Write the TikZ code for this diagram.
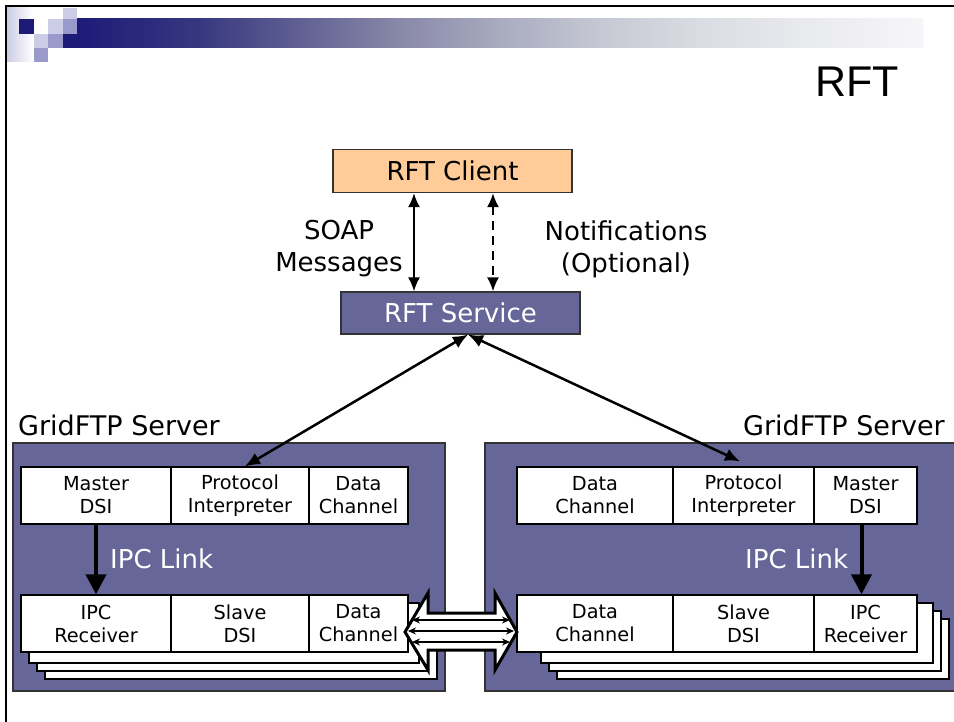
\documentclass[tikz,border=0pt]{standalone}
\usepackage{fontspec}
\setmainfont{DejaVu Sans}
\newfontfamily\titlefont{Liberation Sans}
\usetikzlibrary{arrows.meta}
\definecolor{slate}{HTML}{666699}
\definecolor{peach}{HTML}{FFCC99}
\definecolor{navyb}{HTML}{1C1C78}
\definecolor{lav}{HTML}{CCCCE6}
\definecolor{lavm}{HTML}{9999CC}
\definecolor{gA}{HTML}{363680}
\definecolor{gB}{HTML}{5F5F93}
\definecolor{gC}{HTML}{8888A8}
\definecolor{gD}{HTML}{A9ABC0}
\definecolor{gE}{HTML}{C6C9D3}
\definecolor{gF}{HTML}{DADDE3}
\definecolor{gG}{HTML}{E9EAEE}
\definecolor{gH}{HTML}{F6F6F9}
\pgfdeclarehorizontalshading{barshade}{100bp}{color(0bp)=(navyb); color(25bp)=(navyb); color(32bp)=(gA); color(38bp)=(gB); color(44bp)=(gC); color(50bp)=(gD); color(56bp)=(gE); color(62bp)=(gF); color(68bp)=(gG); color(75bp)=(gH); color(100bp)=(gH)}
\begin{document}
\begin{tikzpicture}[x=1pt,y=-1pt,
  cell/.style={draw=black,line width=1.3pt,fill=white,minimum height=57pt,inner sep=0pt,align=center,font=\fontsize{19.3}{23}\selectfont},
  big/.style={font=\fontsize{26}{32}\selectfont},
  lbl/.style={big,inner sep=0pt},
  panel/.style={fill=slate,draw=black!80,line width=1.2pt},
  copybox/.style={fill=white,draw=black,line width=1.3pt},
  topbox/.style={draw=black!80,line width=1.2pt,minimum width=239pt,inner sep=0pt,big},
  thin2/.style={line width=2pt,{Latex[length=14pt,width=12pt]}-{Latex[length=14pt,width=12pt]}},
  svcarrow/.style={line width=2.5pt,{Latex[length=15pt,width=13pt]}-{Latex[length=15pt,width=13pt]}},
  ipcarrow/.style={line width=4pt,-{Triangle[length=20pt,width=20pt]}},
  small2/.style={line width=1.6pt,{Stealth[length=8pt,width=7pt]}-{Stealth[length=8pt,width=7pt]}}
  ]
\useasboundingbox (0,0) rectangle (954,722);
\fill[white] (0,0) rectangle (954,722);
% slide frame
\draw[line width=2.2pt] (6,722) -- (6,6) -- (954,6);
% top-left decoration
\shade[left color=lav,right color=white] (7,8) rectangle (33,62);
\fill[navyb] (19,19) rectangle (34,34);
\fill[lav] (48,19) rectangle (63,34);
\fill[lav] (63,8) rectangle (77,19);
\fill[lavm] (63,19) rectangle (77,34);
\fill[lav] (34,34) rectangle (48,48);
\fill[lavm] (48,34) rectangle (63,48);
\fill[lavm] (34,48) rectangle (48,62);
\fill[navyb] (63,34) rectangle (77,48);
\shade[shading=barshade] (77,19) rectangle (923,48);
% title
\node[anchor=base east,inner sep=0pt,font=\titlefont\fontsize{43}{50}\selectfont] (title) at (899,97) {RFT};
% top boxes
\node[topbox,fill=peach,minimum height=43pt] (client) at (452.5,171) {RFT Client};
\node[topbox,fill=slate,text=white,minimum height=42pt] (service) at (460.5,313) {RFT Service};
\node[lbl,align=center] (soap) at (339,249) {SOAP\\Messages};
\node[lbl,align=center] (notif) at (626,249) {Notifications\\(Optional)};
\coordinate (sx) at (414,0);
\coordinate (nx) at (493,0);
\draw[thin2] (sx |- client.south) -- (sx |- service.north);
\draw[thin2,dash pattern=on 9pt off 6pt] (nx |- client.south) -- (nx |- service.north);
% panels
\draw[panel] (13,443) rectangle (445,691);
\draw[panel] (485,443) rectangle (957,691);
\node[lbl,anchor=base west,font=\fontsize{27}{32}\selectfont] (lgs) at (18,435) {GridFTP Server};
\node[lbl,anchor=base east,font=\fontsize{27}{32}\selectfont] (rgs) at (945,435) {GridFTP Server};
% left stacked copies
\draw[copybox] (45,619) rectangle (437,679);
\draw[copybox] (37,611) rectangle (428,671);
\draw[copybox] (29,603) rectangle (419,663);
% right stacked copies
\draw[copybox] (557,619) rectangle (949,679);
\draw[copybox] (549,611) rectangle (941,671);
\draw[copybox] (541,603) rectangle (933,663);
% left cells
\node[cell,minimum width=150pt] (lmaster) at (96,495.5) {Master\\DSI};
\node[cell,minimum width=138pt] (lpi) at (240,495.5) {Protocol\\Interpreter};
\node[cell,minimum width=99pt] (ldc) at (358.5,495.5) {Data\\Channel};
\node[cell,minimum width=150pt] (lipc) at (96,623.5) {IPC\\Receiver};
\node[cell,minimum width=138pt] (lslave) at (240,623.5) {Slave\\DSI};
\node[cell,minimum width=99pt] (ldc2) at (358.5,623.5) {Data\\Channel};
% right cells
\node[cell,minimum width=156pt] (rdc) at (595,495.5) {Data\\Channel};
\node[cell,minimum width=141pt] (rpi) at (743.5,495.5) {Protocol\\Interpreter};
\node[cell,minimum width=103pt] (rmaster) at (865.5,495.5) {Master\\DSI};
\node[cell,minimum width=156pt] (rdc2) at (595,623.5) {Data\\Channel};
\node[cell,minimum width=141pt] (rslave) at (743.5,623.5) {Slave\\DSI};
\node[cell,minimum width=103pt] (ripc) at (865.5,623.5) {IPC\\Receiver};
% IPC links
\draw[ipcarrow] (lmaster.south) -- (lipc.north);
\draw[ipcarrow] ([xshift=-4pt]rmaster.south) -- ([xshift=-4pt]ripc.north);
\node[lbl,anchor=base west,text=white] (lipl) at (110,568) {IPC Link};
\node[lbl,anchor=base west,text=white] (ripl) at (745,568) {IPC Link};
% service to protocol interpreters
\draw[svcarrow] ([xshift=7.5pt]service.south) -- ([xshift=5pt]lpi.north);
\draw[svcarrow] ([xshift=7.5pt]service.south) -- ([xshift=-3.5pt,yshift=5pt]rpi.north);
% hollow double arrow between data channels
\draw[fill=white,line width=3pt,line join=miter] (405,632) -- (428,593) -- (428,613) -- (495,613) -- (495,593) -- (517,632) -- (495,670) -- (495,650) -- (428,650) -- (428,670) -- cycle;
\draw[small2] (412,620) -- (510,620);
\draw[small2] (408,631) -- (514,631);
\draw[small2] (412,642) -- (510,642);
\end{tikzpicture}
\end{document}
